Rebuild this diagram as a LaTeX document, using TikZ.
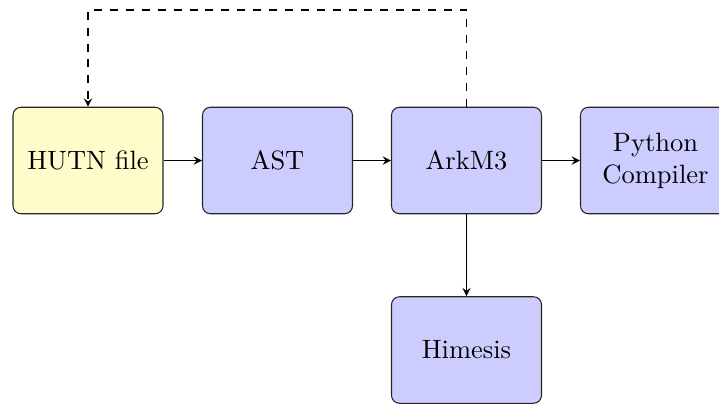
\documentclass[tikz,border=0pt]{standalone}
\usetikzlibrary{arrows.meta}
\begin{document}
\begin{tikzpicture}[x=0.37736pt,y=-0.37736pt,
  box/.style={draw=black!85, rounded corners=3pt, minimum width=56.6pt, minimum height=40.2pt, inner sep=0pt, align=center},
  bluebox/.style={box, fill=blue!20},
  yellowbox/.style={box, fill=yellow!20},
  conn/.style={-stealth}]
\useasboundingbox (0,0) rectangle (719,404);
\node[yellowbox] (hutn) at (88,160.5) {HUTN file};
\node[bluebox] (ast) at (277.5,160.5) {AST};
\node[bluebox] (ark) at (466.5,160.5) {ArkM3};
\node[bluebox] (py) at (655.5,160.5) {Python\\Compiler};
\node[bluebox] (him) at (466.5,350) {Himesis};
\coordinate (top) at (466.5,10);
\draw[conn] (hutn) -- (ast);
\draw[conn] (ast) -- (ark);
\draw[conn] (ark) -- (py);
\draw[conn] (ark) -- (him);
\draw[conn, dashed] (ark.north) -- (top) -| (hutn.north);
\end{tikzpicture}
\end{document}
